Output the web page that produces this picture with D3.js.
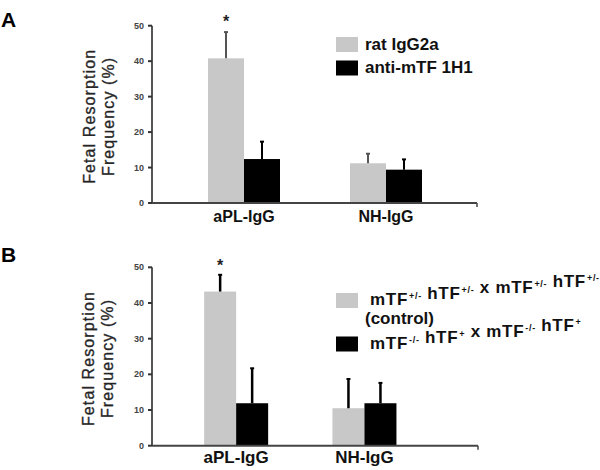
<!DOCTYPE html>
<html>
<head>
<meta charset="utf-8">
<script src="https://cdn.jsdelivr.net/npm/d3@7"></script>
<style>
  body { margin: 0; background: #fff; }
  svg { display: block; font-family: Arial, "Liberation Sans", sans-serif; }
</style>
</head>
<body>
<svg id="chart" width="600" height="470"></svg>
<script>
// Fetal resorption frequency, two panels (A, B)
const categories = ['aPL-IgG', 'NH-IgG'];
const yTicks = [0, 10, 20, 30, 40, 50];

// Panel A
const seriesA = ['rat IgG2a', 'anti-mTF 1H1'];
const meansA = [[40.8, 11.2], [12.4, 9.4]];   // [series][category]
const errorsA = [[7.4, 2.7], [4.9, 2.9]];

// Panel B
const seriesB = ['control', 'knockout'];
const meansB = [[43.2, 10.5], [11.9, 11.9]];
const errorsB = [[4.7, 8.2], [9.8, 5.7]];

const colors = ['#c8c8c8', '#000000'];

const svg = d3.select('#chart');

function drawPanel(cfg) {
    const g = svg.append('g');

    const y = d3.scaleLinear().domain([0, 50]).range([cfg.y0, cfg.y50]);
    const x0 = d3.scaleBand().domain(categories).range(cfg.bandRange);
    const x1 = d3.scaleBand().domain([0, 1])
        .range([(x0.bandwidth() - cfg.barW * 2) / 2, (x0.bandwidth() + cfg.barW * 2) / 2]);

    // Bars
    const data = [];
    cfg.means.forEach((row, s) => row.forEach((v, c) => {
        data.push({ s, c, v, e: cfg.errors[s][c] });
    }));

    g.selectAll('.bar')
        .data(data)
        .enter()
        .append('rect')
        .attr('x', d => x0(categories[d.c]) + x1(d.s))
        .attr('y', d => y(d.v))
        .attr('width', x1.bandwidth())
        .attr('height', d => y(0) - y(d.v))
        .attr('fill', d => colors[d.s]);

    // Error bars (upper only)
    const eb = g.selectAll('.err')
        .data(data)
        .enter()
        .append('g');
    eb.append('line')
        .attr('x1', d => x0(categories[d.c]) + x1(d.s) + x1.bandwidth() / 2)
        .attr('x2', d => x0(categories[d.c]) + x1(d.s) + x1.bandwidth() / 2)
        .attr('y1', d => y(d.v))
        .attr('y2', d => y(d.v + d.e))
        .attr('stroke', d => d.s === 0 ? cfg.grayErr : '#000')
        .attr('stroke-width', cfg.errW);
    eb.append('line')
        .attr('x1', d => x0(categories[d.c]) + x1(d.s) + x1.bandwidth() / 2 - 2)
        .attr('x2', d => x0(categories[d.c]) + x1(d.s) + x1.bandwidth() / 2 + 2)
        .attr('y1', d => y(d.v + d.e))
        .attr('y2', d => y(d.v + d.e))
        .attr('stroke', d => d.s === 0 ? cfg.grayErr : '#000')
        .attr('stroke-width', 2);

    // Significance star
    const starX = x0(categories[0]) + x1(0) + x1.bandwidth() / 2;
    g.append('text')
        .attr('x', starX)
        .attr('y', y(cfg.means[0][0] + cfg.errors[0][0]) - cfg.starGap)
        .attr('text-anchor', 'middle')
        .attr('font-size', '16px')
        .attr('font-weight', 'bold')
        .attr('fill', '#222')
        .text('*');

    // Y axis
    g.append('line')
        .attr('x1', cfg.axisX).attr('x2', cfg.axisX)
        .attr('y1', y(50)).attr('y2', y(0))
        .attr('stroke', '#555').attr('stroke-width', 2);
    g.selectAll('.ytick')
        .data(yTicks)
        .enter()
        .append('line')
        .attr('x1', cfg.axisX - 4).attr('x2', cfg.axisX)
        .attr('y1', d => y(d)).attr('y2', d => y(d))
        .attr('stroke', '#333').attr('stroke-width', 2);
    g.selectAll('.ylab')
        .data(yTicks)
        .enter()
        .append('text')
        .attr('x', cfg.axisX - 8)
        .attr('y', d => y(d))
        .attr('dy', '0.35em')
        .attr('text-anchor', 'end')
        .attr('font-size', '9px')
        .attr('font-weight', 'bold')
        .attr('fill', '#444')
        .text(d => d);

    // X axis
    g.append('line')
        .attr('x1', cfg.axisX).attr('x2', cfg.axisEnd)
        .attr('y1', y(0)).attr('y2', y(0))
        .attr('stroke', '#444').attr('stroke-width', 2);
    g.append('line')
        .attr('x1', cfg.axisEnd).attr('x2', cfg.axisEnd)
        .attr('y1', y(0)).attr('y2', y(0) + 4)
        .attr('stroke', '#444').attr('stroke-width', 1.5);

    g.selectAll('.xlab')
        .data(categories)
        .enter()
        .append('text')
        .attr('x', d => x0(d) + x0.bandwidth() / 2)
        .attr('y', y(0) + cfg.labelGap)
        .attr('text-anchor', 'middle')
        .attr('font-size', cfg.labelSize)
        .attr('font-weight', 'bold')
        .attr('fill', '#111')
        .text(d => d);

    // Y title (two lines)
    const midY = (y(0) + y(50)) / 2 + 2;
    ['Fetal Resorption', 'Frequency (%)'].forEach((t, i) => {
        g.append('text')
            .attr('transform', `translate(${cfg.titleX + i * 19}, ${midY}) rotate(-90)`)
            .attr('text-anchor', 'middle')
            .attr('font-size', '16px')
            .attr('letter-spacing', '1.1px')
            .attr('stroke', '#333')
            .attr('stroke-width', 0.35)
            .attr('fill', '#222')
            .text(t);
    });

    // Panel letter
    g.append('text')
        .attr('x', 1)
        .attr('y', cfg.letterY)
        .attr('font-size', '21px')
        .attr('font-weight', 'bold')
        .attr('fill', '#000')
        .text(cfg.letter);

    return g;
}

// Panel A
drawPanel({
    letter: 'A', letterY: 27,
    means: meansA, errors: errorsA,
    y0: 203, y50: 25.7,
    bandRange: [173, 457], barW: 36,
    axisX: 152, axisEnd: 477,
    labelGap: 19, labelSize: '16px',
    titleX: 95, grayErr: '#555', errW: 2, starGap: 5
});

// Panel B
drawPanel({
    letter: 'B', letterY: 262,
    means: meansB, errors: errorsB,
    y0: 445.7, y50: 267.3,
    bandRange: [172, 428.6], barW: 32,
    axisX: 152, axisEnd: 478,
    labelGap: 17, labelSize: '17px',
    titleX: 94, grayErr: '#000', errW: 2.5, starGap: 4
});

// Legend A
const legA = svg.append('g');
seriesA.forEach((name, i) => {
    legA.append('rect')
        .attr('x', 336).attr('y', 37 + i * 23.5)
        .attr('width', 22).attr('height', 15)
        .attr('fill', colors[i]);
    legA.append('text')
        .attr('x', 365).attr('y', 49.5 + i * 23.5)
        .attr('font-size', '17px')
        .attr('font-weight', 'bold')
        .attr('fill', '#111')
        .text(name);
});

// Legend B (genotype labels with superscripts)
const legendBParts = [
    [['mTF', '+/-'], [' hTF', '+/-'], [' x mTF', '+/-'], [' hTF', '+/-']],
    [['mTF', '-/-'], [' hTF', '+'], [' x mTF', '-/-'], [' hTF', '+']]
];
const legBRows = [305, 348.5];
const legB = svg.append('g');
seriesB.forEach((name, i) => {
    legB.append('rect')
        .attr('x', 336).attr('y', legBRows[i] - 12)
        .attr('width', 22).attr('height', 15)
        .attr('fill', colors[i]);
    const t = legB.append('text')
        .attr('x', 370).attr('y', legBRows[i])
        .attr('font-size', '17px')
        .attr('font-weight', 'bold')
        .attr('letter-spacing', '0.7px')
        .attr('fill', '#111');
    legendBParts[i].forEach(([base, sup]) => {
        t.append('tspan').attr('dy', 0).text(base);
        t.append('tspan')
            .attr('font-size', '9px')
            .attr('dy', -6)
            .attr('dx', 1)
            .text(sup);
        t.append('tspan').attr('dy', 6).text('');
    });
});
legB.append('text')
    .attr('x', 365).attr('y', 323.5)
    .attr('font-size', '17px')
    .attr('font-weight', 'bold')
    .attr('fill', '#111')
    .text('(control)');
</script>
</body>
</html>
